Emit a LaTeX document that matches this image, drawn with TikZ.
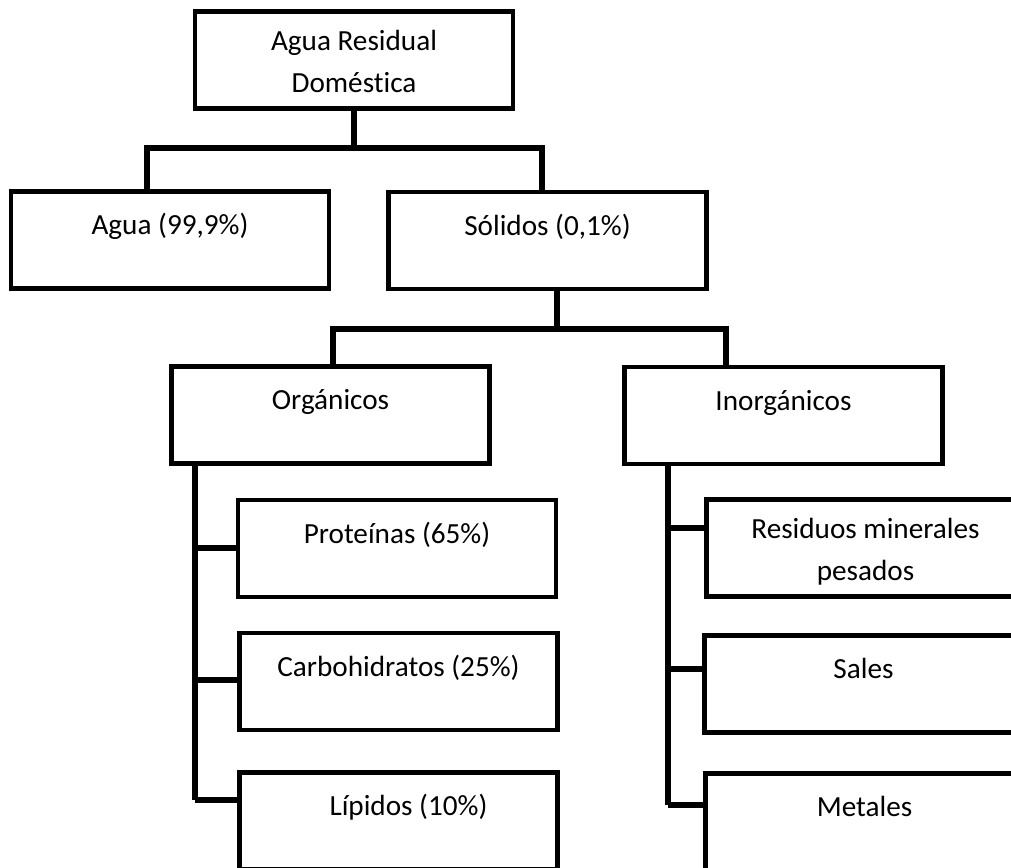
\documentclass[tikz,border=0pt]{standalone}
\usepackage{fontspec}
\setmainfont{Carlito}[Ligatures=NoCommon]
\usetikzlibrary{positioning}

\begin{document}
\begin{tikzpicture}[
    x=0.5pt, y=-0.5pt,
    caja/.style = {draw, line width=2.4pt, minimum width=159pt, minimum height=48.5pt, inner sep=0pt,
                   align=center, font=\fontsize{14.6pt}{21pt}\selectfont, text height=10pt, text depth=15.5pt},
    caja2/.style = {caja, text height=32pt, text depth=0pt},
    linea/.style = {line width=2.6pt}
]

% Page frame, the right column runs off the edge
\useasboundingbox (0,0) rectangle (1011,867);
\clip (0,0) rectangle (1011,867);

% Top box and first level
\node[caja2] (raiz) at (354,60) {Agua Residual\\Doméstica};
\node[caja] (agua) at (170,240) {Agua (99,9\%)};
\node[caja] (solidos) at (547.5,240.5) {Sólidos (0,1\%)};

% Second level under Sólidos
\node[caja] (organicos) at (330.5,415) {Orgánicos};
\node[caja] (inorganicos) at (783.5,415.5) {Inorgánicos};

% Organic list
\node[caja] (proteinas) at (397,548.5) {Proteínas (65\%)};
\node[caja] (carbohidratos) at (398.5,681.5) {Carbohidratos (25\%)};
\node[caja] (lipidos) at (398.5,821) {\hspace*{10pt}Lípidos (10\%)};

% Inorganic list
\node[caja2] (residuos) at (865.5,548) {Residuos minerales\\pesados};
\node[caja] (sales) at (863.5,684) {Sales};
\node[caja] (metales) at (864.5,822) {Metales};

% Branch from the top box
\coordinate (b1izq) at (147,148);
\coordinate (b1der) at (542,148);
\draw[linea] (raiz.south) -- (raiz.south |- b1izq);
\draw[linea] (b1izq |- agua.north) -- (b1izq) -- (b1der) -- (b1der |- solidos.north);

% Branch from Sólidos
\coordinate (b2izq) at (333,329);
\coordinate (b2der) at (726,329);
\coordinate (b2sup) at (557,329);
\draw[linea] (b2sup |- solidos.south) -- (b2sup);
\draw[linea] (b2izq |- organicos.north) -- (b2izq) -- (b2der) -- (b2der |- inorganicos.north);

% Comb under Orgánicos
\coordinate (o1) at (195,548);
\coordinate (o2) at (195,680);
\coordinate (o3) at (195,800);
\draw[linea] (o3 |- organicos.south) -- (o3);
\draw[linea] (o1) -- (o1 -| proteinas.west);
\draw[linea] (o2) -- (o2 -| carbohidratos.west);
\draw[linea] (o3) -- (o3 -| lipidos.west);

% Comb under Inorgánicos
\coordinate (i1) at (668,528);
\coordinate (i2) at (668,669);
\coordinate (i3) at (668,805);
\draw[linea] (i3 |- inorganicos.south) -- (i3);
\draw[linea] (i1) -- (i1 -| residuos.west);
\draw[linea] (i2) -- (i2 -| sales.west);
\draw[linea] (i3) -- (i3 -| metales.west);

\end{tikzpicture}
\end{document}
